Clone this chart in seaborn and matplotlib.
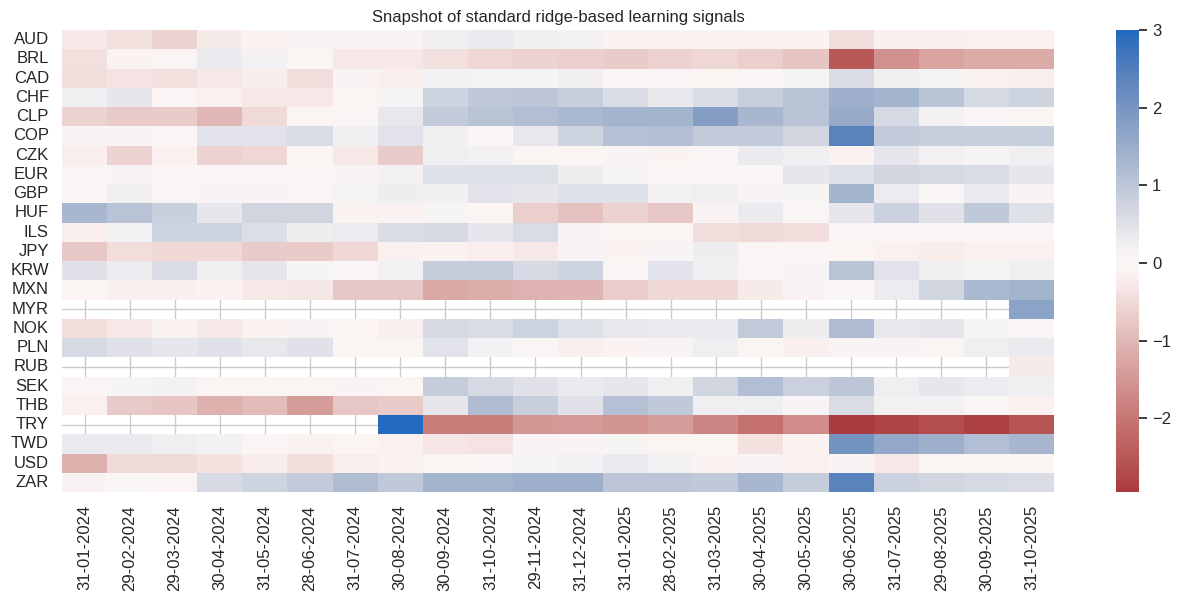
import numpy as np
import pandas as pd
import matplotlib
matplotlib.use("Agg")
import matplotlib.pyplot as plt
import seaborn as sns

nan = np.nan

currencies = ["AUD", "BRL", "CAD", "CHF", "CLP", "COP", "CZK", "EUR", "GBP", "HUF", "ILS",
              "JPY", "KRW", "MXN", "MYR", "NOK", "PLN", "RUB", "SEK", "THB", "TRY", "TWD",
              "USD", "ZAR"]

dates = ["31-01-2024", "29-02-2024", "29-03-2024", "30-04-2024", "31-05-2024", "28-06-2024",
         "31-07-2024", "30-08-2024", "30-09-2024", "31-10-2024", "29-11-2024", "31-12-2024",
         "31-01-2025", "28-02-2025", "31-03-2025", "30-04-2025", "30-05-2025", "30-06-2025",
         "31-07-2025", "29-08-2025", "30-09-2025", "31-10-2025"]

# signal values per currency, one entry per month end
aud = [-0.3, -0.4, -0.6, -0.25, -0.1, -0.08, -0.08, -0.08, 0.25, 0.35, 0.25,
       0.2, -0.12, -0.12, -0.12, -0.1, -0.1, -0.45, -0.18, -0.18, -0.15, -0.15]
brl = [-0.4, -0.1, -0.03, 0.35, 0.2, -0.05, -0.3, -0.3, -0.4, -0.55, -0.6,
       -0.65, -0.7, -0.6, -0.55, -0.65, -0.8, -2.5, -1.6, -1.3, -1.2, -1.2]
cad = [-0.45, -0.35, -0.4, -0.28, -0.22, -0.45, -0.07, -0.18, 0.2, 0.18, 0.15,
       0.25, 0.02, -0.03, -0.05, 0.08, 0.12, 0.6, 0.25, 0.18, -0.12, -0.2]
chf = [0.28, 0.4, -0.03, -0.15, -0.3, -0.3, -0.05, 0.15, 0.75, 0.95, 1.0,
       0.85, 0.6, 0.38, 0.6, 0.85, 1.05, 1.45, 1.35, 1.05, 0.65, 0.75]
clp = [-0.6, -0.7, -0.7, -1.0, -0.5, -0.05, 0.05, 0.38, 0.9, 1.05, 1.15,
       1.25, 1.35, 1.35, 1.8, 1.3, 1.05, 1.55, 0.65, 0.2, 0.0, -0.05]
cop = [0.1, 0.1, -0.02, 0.45, 0.45, 0.6, 0.25, 0.45, 0.25, 0.05, 0.38,
       0.75, 1.1, 1.15, 0.9, 0.9, 0.7, 2.4, 0.9, 0.85, 0.85, 0.85]
czk = [-0.2, -0.6, -0.15, -0.58, -0.55, -0.05, -0.28, -0.7, 0.28, 0.22, -0.05,
       -0.05, 0.1, -0.1, 0.05, 0.35, 0.28, -0.12, 0.4, 0.22, 0.15, 0.28]
eur = [-0.03, 0.1, 0.08, -0.04, -0.04, -0.04, 0.1, 0.2, 0.5, 0.5, 0.5,
       0.3, 0.15, -0.03, -0.04, 0.06, 0.4, 0.5, 0.72, 0.65, 0.58, 0.4]
gbp = [-0.04, 0.25, 0.02, 0.1, 0.1, 0.08, 0.15, 0.3, 0.25, 0.45, 0.4,
       0.5, 0.5, 0.22, 0.28, 0.1, 0.13, 1.35, 0.32, 0.05, 0.35, 0.1]
huf = [1.3, 1.05, 0.82, 0.4, 0.72, 0.72, -0.13, -0.13, 0.12, -0.05, -0.65,
       -0.85, -0.6, -0.75, -0.07, 0.35, 0.08, 0.42, 0.78, 0.48, 0.95, 0.5]
ils = [-0.2, 0.2, 0.75, 0.75, 0.55, 0.3, 0.32, 0.6, 0.65, 0.42, 0.6,
       0.1, -0.06, -0.05, -0.45, -0.5, -0.43, 0.02, -0.04, -0.04, 0.02, -0.03]
jpy = [-0.75, -0.45, -0.52, -0.52, -0.7, -0.7, -0.52, -0.15, -0.13, -0.2, -0.3,
       0.1, -0.1, 0.1, 0.3, 0.03, -0.03, -0.05, -0.15, -0.22, -0.15, -0.15]
krw = [0.48, 0.32, 0.6, 0.27, 0.4, 0.13, 0.05, 0.22, 0.88, 0.88, 0.62,
       0.75, -0.04, 0.45, 0.28, 0.02, 0.1, 1.05, 0.45, 0.25, 0.15, 0.27]
mxn = [-0.06, -0.18, -0.18, -0.1, -0.28, -0.32, -0.75, -0.75, -1.25, -1.15, -1.08,
       -1.05, -0.68, -0.52, -0.52, -0.25, -0.07, 0.05, 0.32, 0.7, 1.25, 1.35]
myr = [nan] * 21 + [1.7]
nok = [-0.45, -0.3, -0.13, -0.28, -0.1, -0.08, -0.05, -0.18, 0.62, 0.6, 0.75,
       0.52, 0.38, 0.34, 0.34, 0.92, 0.3, 1.2, 0.36, 0.4, 0.14, 0.07]
pln = [0.65, 0.48, 0.4, 0.48, 0.38, 0.48, -0.05, -0.05, 0.45, 0.2, 0.06,
       -0.17, -0.1, 0.1, 0.26, -0.05, -0.18, 0.1, 0.1, -0.06, 0.28, 0.33]
rub = [nan] * 21 + [-0.25]
sek = [-0.04, 0.12, 0.2, -0.05, -0.05, -0.05, 0.1, -0.06, 0.88, 0.65, 0.48,
       0.34, 0.4, 0.27, 0.7, 1.15, 0.8, 1.0, 0.27, 0.42, 0.32, 0.27]
thb = [-0.15, -0.72, -0.8, -1.1, -0.95, -1.4, -0.78, -0.7, 0.42, 1.2, 0.85,
       0.48, 1.1, 0.95, 0.28, 0.28, 0.1, 0.6, 0.22, 0.22, 0.02, -0.15]
try_ = [nan] * 7 + [3.0, -1.9, -1.9, -1.5,
        -1.45, -1.55, -1.4, -1.75, -2.1, -1.65, -2.95, -2.8, -2.65, -2.85, -2.55]
twd = [0.35, 0.35, 0.27, 0.2, -0.03, -0.12, -0.06, -0.15, -0.33, -0.35, 0.1,
       0.1, 0.13, -0.05, -0.05, -0.38, -0.1, 2.05, 1.6, 1.45, 1.15, 1.3]
usd = [-1.1, -0.48, -0.48, -0.38, -0.22, -0.43, -0.2, -0.13, -0.05, 0.05, 0.13,
       0.2, 0.33, 0.2, -0.1, -0.08, -0.14, -0.08, -0.3, -0.06, -0.06, -0.06]
zar = [-0.07, 0.05, -0.04, 0.62, 0.75, 0.9, 1.2, 0.95, 1.35, 1.35, 1.45,
       1.45, 1.0, 1.0, 0.95, 1.3, 0.88, 2.4, 0.78, 0.7, 0.65, 0.6]

rows = [aud, brl, cad, chf, clp, cop, czk, eur, gbp, huf, ils, jpy, krw, mxn,
        myr, nok, pln, rub, sek, thb, try_, twd, usd, zar]

df = pd.DataFrame(rows, index=currencies, columns=dates)

sns.set_theme(style="whitegrid")
plt.rcParams["font.family"] = ["Liberation Sans", "DejaVu Sans"]

fig = plt.figure(figsize=(11.79, 6.0), dpi=100)
ax = fig.add_axes([62 / 1179, 1 - 492 / 600, (1054 - 62) / 1179, (492 - 30) / 600])
cax = fig.add_axes([1116 / 1179, 1 - 492 / 600, 23 / 1179, (492 - 30) / 600])

# NaN cells stay empty so the white grid shows through
sns.heatmap(df, cmap="vlag_r", center=0, ax=ax, cbar_ax=cax)
ax.set_title("Snapshot of standard ridge-based learning signals", fontsize=12)
ax.tick_params(axis="x", labelsize=12, rotation=90)
ax.tick_params(axis="y", labelsize=12, rotation=0)
cax.tick_params(labelsize=12)

fig.savefig("out.png", dpi=100)
